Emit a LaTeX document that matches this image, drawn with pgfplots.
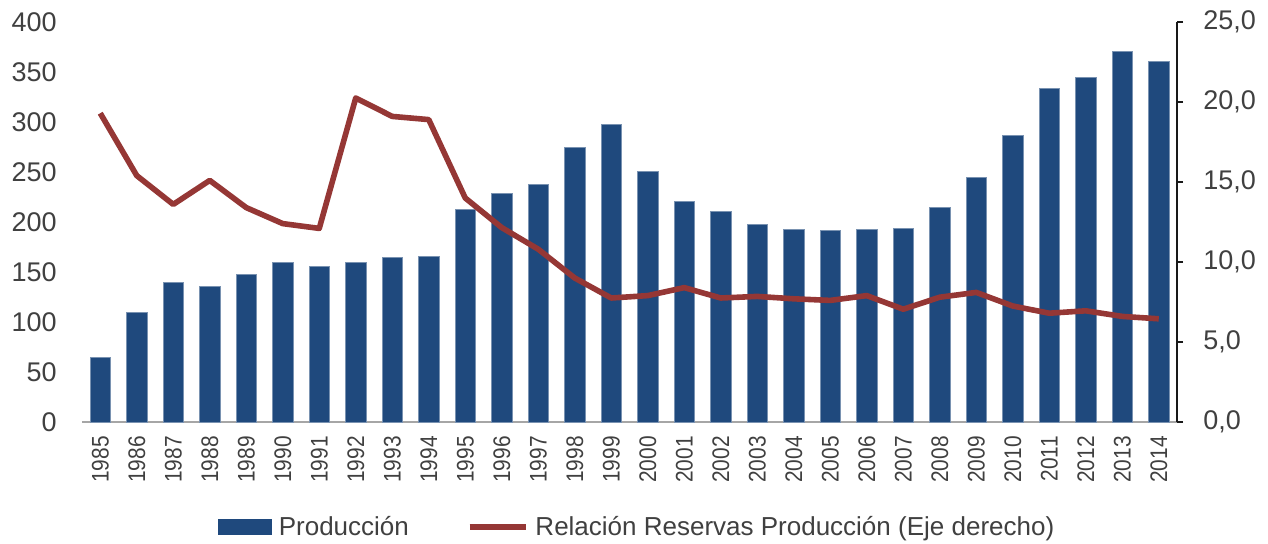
\documentclass[border=0pt]{standalone}
\usepackage{fontspec}
\setmainfont{Liberation Sans}
\usepackage{pgfplots}
\usepackage{pgfplotstable}
\pgfplotsset{compat=1.18}
\definecolor{prodblue}{RGB}{31,73,125}
\definecolor{ratiored}{RGB}{149,55,53}
\definecolor{txtgray}{RGB}{64,64,64}
\definecolor{basegray}{RGB}{166,166,166}

\pgfplotstableread{
x year prod ratio
0  1985 65  19.3
1  1986 110 15.4
2  1987 140 13.6
3  1988 136 15.1
4  1989 148 13.4
5  1990 160 12.4
6  1991 156 12.1
7  1992 160 20.25
8  1993 165 19.1
9  1994 166 18.9
10 1995 213 14.0
11 1996 229 12.15
12 1997 238 10.8
13 1998 275 9.0
14 1999 298 7.75
15 2000 251 7.9
16 2001 221 8.4
17 2002 211 7.75
18 2003 198 7.85
19 2004 193 7.7
20 2005 192 7.6
21 2006 193 7.9
22 2007 194 7.05
23 2008 215 7.8
24 2009 245 8.1
25 2010 287 7.25
26 2011 334 6.8
27 2012 345 6.95
28 2013 371 6.6
29 2014 361 6.45
}\data

\pgfplotsset{
  /pgf/number format/assume math mode=true,
  every tick label/.append style={font=\fontsize{13.5}{16}\selectfont, text=txtgray},
}

\begin{document}
\begin{tikzpicture}[font=\fontsize{13.5}{16}\selectfont]
\path[use as bounding box] (-41pt,-60.5pt) rectangle (593pt,211pt);

\begin{axis}[
    at={(0,0)}, anchor=south west,
    scale only axis, width=547.5pt, height=200pt,
    ybar, bar width=0.56,
    xmin=-0.5, xmax=29.5, ymin=0, ymax=400,
    axis x line*=bottom, axis y line*=left,
    x axis line style={basegray, line width=0.8pt},
    y axis line style={draw=none},
    major tick length=0pt,
    xtick=data, xticklabels from table={\data}{year},
    xticklabel style={yshift=-7pt, rotate=90, xscale=0.87, anchor=east, inner sep=0pt,
                      font=\fontsize{12}{14}\selectfont},
    ytick={0,50,...,400},
    yticklabel style={inner sep=0pt, xshift=-12.5pt},
    legend style={at={(0.508,0)}, anchor=center, yshift=-52.5pt, draw=none, fill=none,
                  legend columns=2, inner sep=0pt, text=txtgray,
                  font=\fontsize{13}{16}\selectfont,
                  /tikz/every odd column/.append style={column sep=1.5pt},
                  /tikz/every even column/.append style={column sep=27pt}},
    legend cell align=left,
]
\addplot[fill=prodblue, draw=prodblue!60!white, line width=0.3pt,
         legend image code/.code={\fill[prodblue] (0pt,-3.75pt) rectangle (26.5pt,3.75pt);}]
    table[x=x, y=prod] {\data};
\addlegendentry{Producción}
\addlegendimage{ratiored, line width=2.8pt,
    legend image code/.code={\draw[ratiored, line width=2.8pt] (0pt,0pt) -- (28pt,0pt);}}
\addlegendentry{Relación Reservas Producción (Eje derecho)}
\end{axis}

\begin{axis}[
    at={(0,0)}, anchor=south west,
    scale only axis, width=547.5pt, height=200pt,
    xmin=-0.5, xmax=29.5, ymin=0, ymax=25,
    axis x line=none, axis y line*=right,
    y axis line style={black!90, line width=1pt},
    ytick={0,5,...,25},
    tick align=outside, major tick length=3pt,
    tick style={black!90, line width=1pt},
    yticklabel style={inner sep=0pt, xshift=10pt, anchor=west,
                      /pgf/number format/.cd, fixed, fixed zerofill, precision=1, use comma},
]
\addplot[ratiored, line width=2.8pt, line join=round, mark=none]
    table[x=x, y=ratio] {\data};
\end{axis}
\end{tikzpicture}
\end{document}
